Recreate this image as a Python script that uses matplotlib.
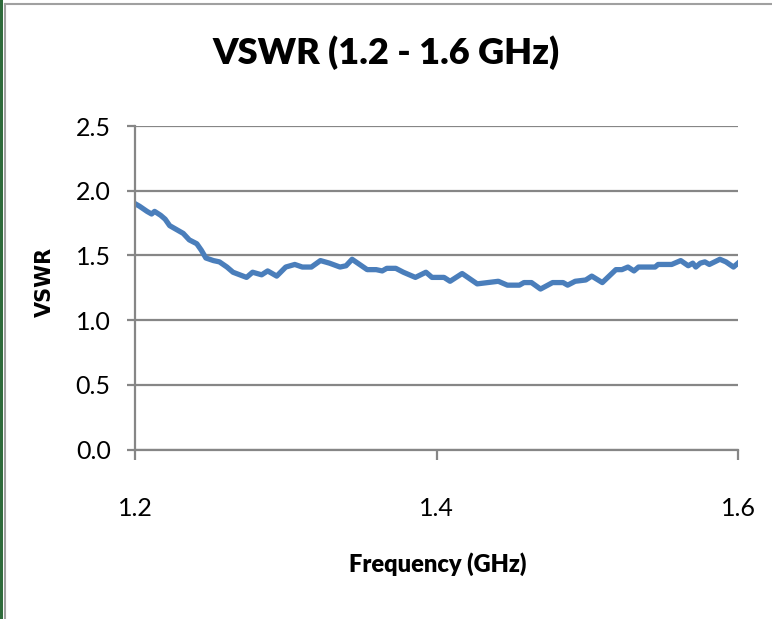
import matplotlib
matplotlib.use('Agg')
import matplotlib.pyplot as plt
from matplotlib.lines import Line2D
from matplotlib.patches import Rectangle

# values
freq = [1.200, 1.203, 1.208, 1.211, 1.213, 1.217, 1.220, 1.223, 1.232, 1.236,
        1.241, 1.244, 1.247, 1.252, 1.256, 1.261, 1.265, 1.274, 1.278, 1.284,
        1.288, 1.294, 1.300, 1.306, 1.311, 1.317, 1.323, 1.329, 1.336, 1.340,
        1.344, 1.349, 1.354, 1.360, 1.364, 1.367, 1.373, 1.378, 1.386, 1.393,
        1.397, 1.405, 1.409, 1.417, 1.427, 1.441, 1.447, 1.455, 1.458, 1.463,
        1.469, 1.477, 1.484, 1.487, 1.492, 1.499, 1.503, 1.510, 1.519, 1.523,
        1.527, 1.531, 1.534, 1.545, 1.547, 1.556, 1.562, 1.567, 1.570, 1.572,
        1.575, 1.578, 1.581, 1.588, 1.592, 1.597, 1.600]
vswr = [1.90, 1.88, 1.84, 1.82, 1.84, 1.81, 1.78, 1.73, 1.67, 1.62,
        1.59, 1.54, 1.48, 1.46, 1.45, 1.41, 1.37, 1.33, 1.37, 1.35,
        1.38, 1.34, 1.41, 1.43, 1.41, 1.41, 1.46, 1.44, 1.41, 1.42,
        1.47, 1.43, 1.39, 1.39, 1.38, 1.40, 1.40, 1.37, 1.33, 1.37,
        1.33, 1.33, 1.30, 1.36, 1.28, 1.30, 1.27, 1.27, 1.29, 1.29,
        1.24, 1.29, 1.29, 1.27, 1.30, 1.31, 1.34, 1.29, 1.39, 1.39,
        1.41, 1.38, 1.41, 1.41, 1.43, 1.43, 1.46, 1.42, 1.44, 1.41,
        1.44, 1.45, 1.43, 1.47, 1.45, 1.41, 1.44]
xticks = [1.2, 1.4, 1.6]
xtick_labels = ['1.2', '1.4', '1.6']
yticks = [0.0, 0.5, 1.0, 1.5, 2.0, 2.5]
ytick_labels = ['0.0', '0.5', '1.0', '1.5', '2.0', '2.5']

W, H = 772, 619
grey = '#868686'

fig = plt.figure(figsize=(W / 100, H / 100), dpi=100)
ax = fig.add_axes([135 / W, 1 - 449.5 / H, (738 - 135) / W, (449.5 - 126) / H])

ax.plot(freq, vswr, color='#4a7ebb', linewidth=3.8, solid_joinstyle='round')
ax.set_xlim(1.2, 1.6)
ax.set_ylim(0, 2.5)
ax.set_xticks(xticks)
ax.set_xticklabels(xtick_labels)
ax.set_yticks(yticks)
ax.set_yticklabels(ytick_labels)
ax.yaxis.grid(True, color=grey, linewidth=1.6)
ax.set_axisbelow(True)
for s in ['top', 'right']:
    ax.spines[s].set_visible(False)
for s in ['left', 'bottom']:
    ax.spines[s].set_color(grey)
    ax.spines[s].set_linewidth(1.6)
ax.tick_params(axis='y', length=5.5, width=1.6, color=grey, pad=12,
               labelsize=18, labelfontfamily='Lato')
ax.tick_params(axis='x', length=7, width=1.6, color=grey, pad=27,
               labelsize=18, labelfontfamily='Lato')

fig.text(386 / W, 1 - 53 / H, 'VSWR (1.2 - 1.6 GHz)', ha='center', va='center',
         fontsize=26, fontweight='heavy', family='Lato')
fig.text(438 / W, 1 - 564 / H, 'Frequency (GHz)', ha='center', va='center',
         fontsize=17, fontweight='heavy', family='Lato')
fig.text(45 / W, 1 - 282 / H, 'VSWR', ha='center', va='center', rotation=90,
         fontsize=15, fontweight='bold', family='DejaVu Sans')

# frame of the chart area
fig.patches.append(Rectangle((0, 0), 3.5 / W, 1, transform=fig.transFigure,
                             facecolor='#2f6b3b', edgecolor='none'))
fig.lines.append(Line2D([4.5 / W, 4.5 / W], [0, 1 - 3.5 / H], transform=fig.transFigure,
                        color='#a0a0a0', linewidth=1.5))
fig.lines.append(Line2D([4.5 / W, 1], [1 - 3.5 / H, 1 - 3.5 / H], transform=fig.transFigure,
                        color='#a0a0a0', linewidth=1.5))

fig.savefig('out.png', dpi=100)
